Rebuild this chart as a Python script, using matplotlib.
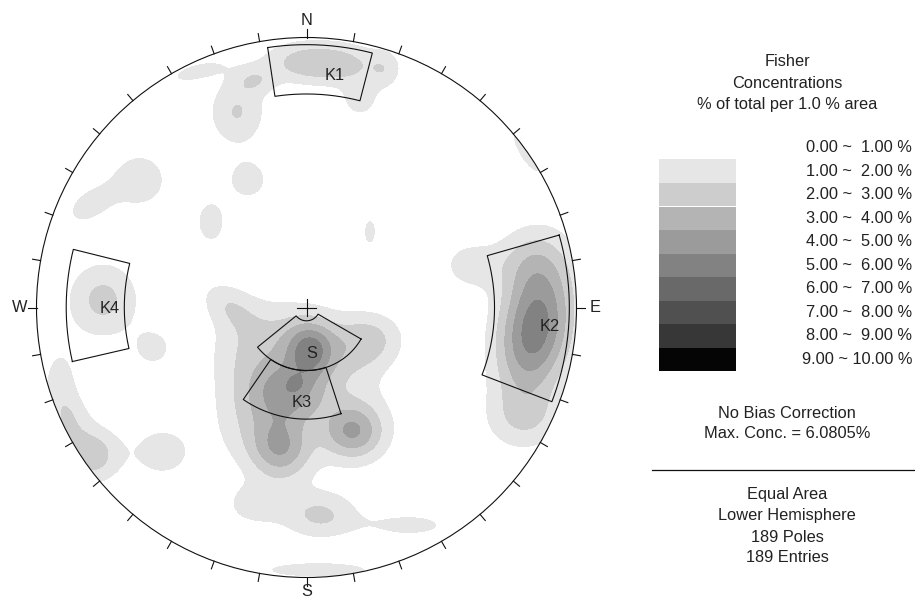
import numpy as np
import matplotlib.pyplot as plt
from matplotlib.patches import Circle, Rectangle
from matplotlib.lines import Line2D

plt.rcParams['font.family'] = ['Liberation Sans', 'DejaVu Sans']

# ---------------------------------------------------------------
# contour bands (% of total per 1.0 % area)
levels = [0, 1, 2, 3, 4, 5, 6, 7, 8, 9, 10]
band_grays = ['#ffffff', '#e6e6e6', '#cdcdcd', '#b4b4b4', '#9b9b9b',
              '#828282', '#696969', '#505050', '#373737', '#050505']
band_labels = ['0.00 ~  1.00 %', '1.00 ~  2.00 %', '2.00 ~  3.00 %',
               '3.00 ~  4.00 %', '4.00 ~  5.00 %', '5.00 ~  6.00 %',
               '6.00 ~  7.00 %', '7.00 ~  8.00 %', '8.00 ~  9.00 %',
               '9.00 ~ 10.00 %']

# density peaks (x = east, y = north, primitive = 1)
peak_x = [-0.024, 0.135, 0.198, 0.291, -0.257, -0.191, -0.413, -0.617,
          -0.802, -0.217, -0.354, 0.235, 0.820, 0.606, 0.846, 0.828,
          0.809, -0.754, -0.569, -0.913, -0.794, -0.535, -0.876,
          -0.209, -0.191, -0.024, 0.143, 0.180, -0.080, -0.291, 0.243,
          0.013, -0.054, -0.098, 0.169, -0.039,
          0.050, -0.191, 0.383, 0.043]
peak_y = [0.909, 0.902, 0.769, 0.880, 0.724, 0.843, 0.872, 0.472,
          0.380, 0.472, 0.317, 0.280, 0.583, 0.157, -0.083, 0.176,
          -0.417, 0.028, -0.150, -0.287, -0.546, -0.535, -0.417,
          -0.157, -0.417, -0.102, -0.176, -0.435, -0.557, 0.009, -0.113,
          -0.157, -0.313, -0.509, -0.461, -0.280,
          -0.769, -0.731, -0.806, -0.972]
peak_pct = [2.0, 2.0, 1.4, 1.3, 2.05, 1.3, 1.25, 1.6,
            1.4, 1.5, 1.5, 1.3, 1.4, 1.4, 5.6, 1.5,
            1.5, 2.3, 1.35, 1.4, 2.6, 1.5, 1.3,
            1.7, 1.7, 1.5, 1.5, 1.6, 1.4, 1.4, 1.7,
            3.2, 3.5, 2.0, 2.6, 0.6,
            2.15, 1.4, 1.3, 1.3]
peak_sx = [0.104, 0.104, 0.052, 0.044, 0.074, 0.056, 0.093, 0.081,
           0.081, 0.059, 0.044, 0.022, 0.104, 0.081, 0.178, 0.093,
           0.104, 0.093, 0.056, 0.052, 0.074, 0.085, 0.056,
           0.111, 0.111, 0.111, 0.111, 0.111, 0.085, 0.081, 0.085,
           0.059, 0.096, 0.074, 0.074, 0.019,
           0.100, 0.081, 0.130, 0.230]
peak_sy = [0.056, 0.056, 0.052, 0.052, 0.089, 0.037, 0.030, 0.081,
           0.048, 0.059, 0.067, 0.052, 0.037, 0.067, 0.096, 0.093,
           0.081, 0.100, 0.056, 0.111, 0.074, 0.074, 0.067,
           0.130, 0.130, 0.093, 0.093, 0.111, 0.085, 0.052, 0.070,
           0.067, 0.081, 0.074, 0.067, 0.019,
           0.063, 0.056, 0.037, 0.030]
peak_ang = [0, 0, 0, 0, 0, 0, 15, 0,
            33, 0, 0, 0, -59, 0, 80, 0,
            0, 0, 0, 0, 0, 0, 0,
            0, 0, 0, 0, 0, 0, -36, 0,
            0, 0, 0, 0, 0,
            0, 0, 0, 0]

# kinematic windows: trend and plunge limits (deg)
win_names = ['K1', 'K2', 'K3', 'K4', 'S']
win_trend_from = [-8.5, 74, 162, 257, 120]
win_trend_to = [14.5, 111, 214.5, 284, 231]
win_plunge_lo = [3, 3, 56, 12, 71]
win_plunge_hi = [22, 31, 71, 33, 86]


def eq_area(trend, plunge):
    t = np.radians(trend)
    r = np.sqrt(2) * np.sin(np.radians(90 - np.asarray(plunge)) / 2)
    return r * np.sin(t), r * np.cos(t)


# ---------------------------------------------------------------
W, H = 915, 601
fig = plt.figure(figsize=(W / 100, H / 100), dpi=100)
cx, cy, R = 306.5, 307.5, 270.0
half = 290
ax = fig.add_axes([(cx - half) / W, (H - cy - half) / H, 2 * half / W, 2 * half / H])
lim = half / R
ax.set_xlim(-lim, lim)
ax.set_ylim(-lim, lim)
ax.axis('off')

g = np.linspace(-1.01, 1.01, 521)
gx, gy = np.meshgrid(g, g)
dens = np.zeros_like(gx)
for x0, y0, p, sx, sy, a in zip(peak_x, peak_y, peak_pct, peak_sx, peak_sy, peak_ang):
    t = np.radians(a)
    u = (gx - x0) * np.cos(t) + (gy - y0) * np.sin(t)
    v = -(gx - x0) * np.sin(t) + (gy - y0) * np.cos(t)
    dens += p * np.exp(-0.5 * ((u / sx) ** 2 + (v / sy) ** 2))
print('max density', dens[gx ** 2 + gy ** 2 <= 1].max())

cs = ax.contourf(gx, gy, dens, levels=levels[1:], colors=band_grays[1:])
cs.set_clip_path(Circle((0, 0), 1.0, transform=ax.transData))

# primitive circle, ticks, cross
ax.add_patch(Circle((0, 0), 1.0, fill=False, ec='#111111', lw=0.8))
for az in range(0, 360, 10):
    s, c = np.sin(np.radians(az)), np.cos(np.radians(az))
    ax.plot([s, 1.03 * s], [c, 1.03 * c], color='#111111', lw=0.8)
ax.plot([-0.034, 0.034], [0, 0], color='#111111', lw=0.8)
ax.plot([0, 0], [-0.03, 0.03], color='#111111', lw=0.8)

for txt, (x, y) in zip(['N', 'E', 'S', 'W'],
                       [(0, 1.062), (1.068, 0), (0, -1.052), (-1.062, 0)]):
    ax.text(x, y, txt, ha='center', va='center', fontsize=11.8, color='#222222')

# kinematic windows
label_xy = {'K1': (0.106, 0.861), 'K2': (0.902, -0.072), 'K3': (-0.018, -0.353),
            'K4': (-0.728, -0.003), 'S': (0.019, -0.172)}
for name, t0, t1, p0, p1 in zip(win_names, win_trend_from, win_trend_to,
                                win_plunge_lo, win_plunge_hi):
    ts = np.linspace(t0, t1, 80)
    ox, oy = eq_area(ts, np.full_like(ts, p0))
    ix, iy = eq_area(ts[::-1], np.full_like(ts, p1))
    xs = np.concatenate([ox, ix, ox[:1]])
    ys = np.concatenate([oy, iy, oy[:1]])
    ax.plot(xs, ys, color='#111111', lw=0.8)
    lx, ly = label_xy[name]
    ax.text(lx, ly, name, ha='center', va='center', fontsize=11.8, color='#222222')

# ---------------------------------------------------------------
# legend / info block (figure pixel coordinates)
def fxy(px, py):
    return px / W, 1 - py / H


tx = 787
for line, py in zip(['Fisher', 'Concentrations', '% of total per 1.0 % area'],
                    [62, 83, 104]):
    fig.text(*fxy(tx, py), line, ha='center', va='center', fontsize=11.8, color='#222222')

row_h = 23.5
for i, (lab, col) in enumerate(zip(band_labels, band_grays)):
    ytop = 136 + row_h * i
    x0, y0 = fxy(659, ytop + row_h)
    fig.patches.append(Rectangle((x0, y0), 77 / W, row_h / H, transform=fig.transFigure,
                                 fc=col, ec='none'))
    fig.text(*fxy(912, ytop + row_h / 2), lab, ha='right', va='center',
             fontsize=11.8, color='#222222')

for line, py in zip(['No Bias Correction', 'Max. Conc. = 6.0805%'], [413, 433.5]):
    fig.text(*fxy(tx, py), line, ha='center', va='center', fontsize=11.8, color='#222222')

fig.add_artist(Line2D([652 / W, 1.0], [1 - 470 / H, 1 - 470 / H], color='#111111', lw=0.9))

for line, py in zip(['Equal Area', 'Lower Hemisphere', '189 Poles', '189 Entries'],
                    [494.5, 515.5, 537, 558]):
    fig.text(*fxy(tx, py), line, ha='center', va='center', fontsize=11.8, color='#222222')

fig.savefig('out.png', dpi=100, facecolor='white')
